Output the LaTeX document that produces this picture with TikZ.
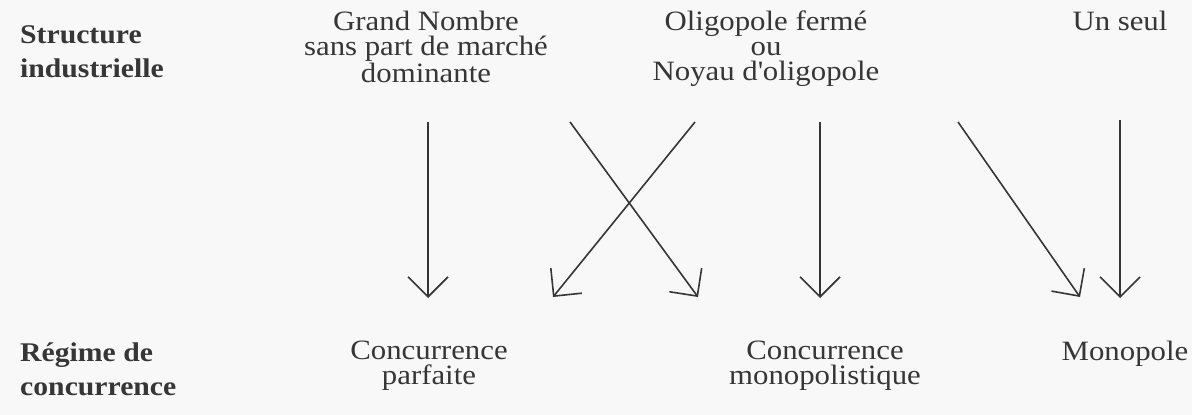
\documentclass[tikz,border=0pt]{standalone}
\usepackage{fontspec}
\setmainfont{Liberation Serif}[FakeStretch=1.1]
\usetikzlibrary{arrows.meta}
\definecolor{ink}{HTML}{363636}
\definecolor{paper}{HTML}{F8F8F8}
\tikzset{
  reg/.style={inner sep=0pt, align=center, text=ink, font=\fontsize{28}{25}\selectfont},
  lab/.style={inner sep=0pt, align=left, text=ink, font=\fontsize{27}{34}\selectfont\bfseries},
  arr/.style={draw=ink, line width=1.6pt, -{Straight Barb[length=20pt,width=40pt,line width=1.6pt]}}
}
\begin{document}
\begin{tikzpicture}[x=1pt,y=-1pt]
\fill[paper] (0,0) rectangle (1192,415);
\useasboundingbox (0,0) rectangle (1192,415);
% labels
\node[lab, anchor=north west] (si) at (20,25) {Structure\\industrielle};
\node[lab, anchor=north west] (rc) at (20,343) {Régime de\\concurrence};
% top row
\node[reg, anchor=north] (gn) at (426,11) {Grand Nombre\\sans part de marché\\dominante};
\node[reg, anchor=north] (ol) at (766,11) {Oligopole fermé\\ou\\Noyau d\textquotesingle oligopole};
\node[reg, anchor=north] (us) at (1120,11) {Un seul};
% bottom row
\node[reg, anchor=north] (cp) at (429,341) {Concurrence\\parfaite};
\node[reg, anchor=north] (cm) at (825,341) {Concurrence\\monopolistique};
\node[reg, anchor=north] (mo) at (1125,341) {Monopole};
% arrow ends
\coordinate (s1) at (428,122); \coordinate (e1) at (428,298);
\coordinate (s2) at (570,122); \coordinate (e2) at (698,297);
\coordinate (s3) at (695,122); \coordinate (e3) at (553,297);
\coordinate (s4) at (820,122); \coordinate (e4) at (820,298);
\coordinate (s5) at (958,122); \coordinate (e5) at (1080,297);
\coordinate (s6) at (1120,120); \coordinate (e6) at (1120,298);
\draw[arr] (s1) -- (e1);
\draw[arr] (s2) -- (e2);
\draw[arr] (s3) -- (e3);
\draw[arr] (s4) -- (e4);
\draw[arr] (s5) -- (e5);
\draw[arr] (s6) -- (e6);
\end{tikzpicture}
\end{document}
